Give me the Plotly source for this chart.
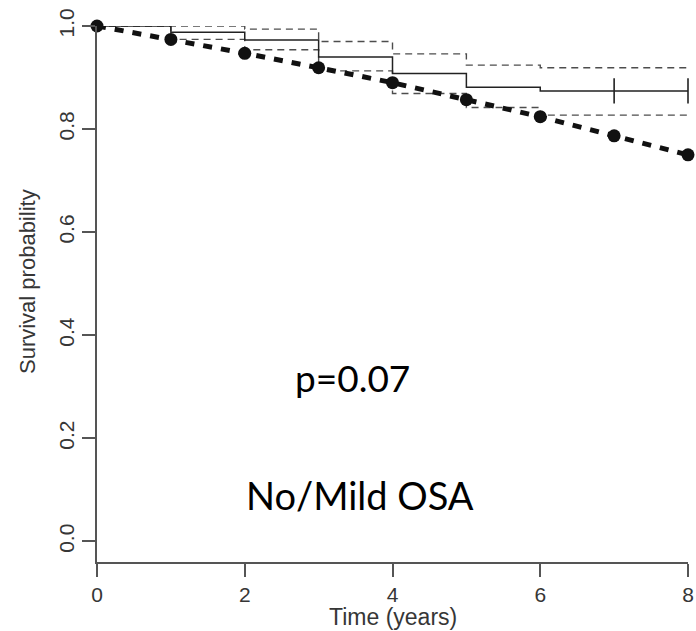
import plotly.graph_objects as go

# ---- data ----
years = [0, 1, 2, 3, 4, 5, 6, 7, 8]
km_survival = [1.0, 0.988, 0.973, 0.940, 0.908, 0.881, 0.874, 0.874, 0.874]
ci_upper = [1.0, 1.0, 0.994, 0.970, 0.946, 0.924, 0.919, 0.919, 0.919]
ci_lower = [1.0, 0.974, 0.954, 0.913, 0.869, 0.842, 0.827, 0.827, 0.827]
expected_survival = [1.0, 0.974, 0.947, 0.919, 0.890, 0.857, 0.824, 0.787, 0.750]
censor_times = [7, 8]
censor_survival = [0.874, 0.874]

x_ticks = [0, 2, 4, 6, 8]
y_ticks = [0.0, 0.2, 0.4, 0.6, 0.8, 1.0]
y_tick_labels = ["0.0", "0.2", "0.4", "0.6", "0.8", "1.0"]

AXIS_COLOR = "#555555"
TEXT_COLOR = "#363636"
FONT = "Liberation Sans, Arial, sans-serif"

fig = go.Figure()

# confidence limits (thin dashed steps)
for ci in (ci_upper, ci_lower):
    fig.add_trace(go.Scatter(
        x=years, y=ci, mode="lines", line_shape="hv",
        line=dict(color="#4d4d4d", width=1.4, dash="7px,5px"),
        cliponaxis=False, showlegend=False, hoverinfo="skip"))

# Kaplan-Meier estimate (solid step)
fig.add_trace(go.Scatter(
    x=years, y=km_survival, mode="lines", line_shape="hv",
    line=dict(color="#222222", width=1.5),
    cliponaxis=False, showlegend=False))

# censor marks
fig.add_trace(go.Scatter(
    x=censor_times, y=censor_survival, mode="markers",
    marker=dict(symbol="line-ns", size=18, line=dict(color="#222222", width=1.6)),
    cliponaxis=False, showlegend=False))

# expected survival (thick dashed with dots)
fig.add_trace(go.Scatter(
    x=years, y=expected_survival, mode="lines+markers",
    line=dict(color="#111111", width=5, dash="9px,9px"),
    marker=dict(color="#111111", size=13),
    cliponaxis=False, showlegend=False))

fig.update_layout(
    width=696, height=631,
    margin=dict(l=97, r=8, t=26, b=69),
    paper_bgcolor="white", plot_bgcolor="white",
    font=dict(family=FONT, size=21, color=TEXT_COLOR),
    xaxis=dict(
        range=[0, 8], tickvals=x_ticks, ticktext=[str(v) for v in x_ticks],
        showgrid=False, zeroline=False, automargin=False,
        showline=True, linecolor=AXIS_COLOR, linewidth=1.5,
        ticks="outside", ticklen=13, tickwidth=1.5, tickcolor=AXIS_COLOR,
        ticklabeloverflow="allow",
        tickfont=dict(size=21)),
    yaxis=dict(
        range=[-0.04, 1.0], tickvals=y_ticks, ticktext=y_tick_labels,
        tickangle=-90,
        showgrid=False, zeroline=False, automargin=False,
        showline=True, linecolor=AXIS_COLOR, linewidth=1.5,
        ticks="outside", ticklen=13, tickwidth=1.5, tickcolor=AXIS_COLOR,
        tickfont=dict(size=21)),
)

# axis titles
fig.add_annotation(text="Time (years)", xref="paper", yref="paper",
                   x=0.5, y=(562 - 617) / 536, xanchor="center", yanchor="middle",
                   showarrow=False, font=dict(size=23, color=TEXT_COLOR))
fig.add_annotation(text="Survival probability", xref="paper", yref="paper",
                   x=(27 - 97) / 591, y=(562 - 282) / 536, xanchor="center", yanchor="middle",
                   textangle=-90, showarrow=False, font=dict(size=22, color=TEXT_COLOR))

# in-plot labels
fig.add_annotation(text="p=0.07", xref="paper", yref="paper",
                   x=(352 - 97) / 591, y=(562 - 402) / 536,
                   showarrow=False, font=dict(family="Lato, sans-serif", size=37, color="#000000"))
fig.add_annotation(text="No/Mild OSA", xref="paper", yref="paper",
                   x=(360 - 97) / 591, y=(562 - 520) / 536,
                   showarrow=False, font=dict(family="Lato, sans-serif", size=38, color="#000000"))

# remove the browser's default body margin so the figure fills the window exactly
fig.write_html(
    "out.html",
    config={"displayModeBar": False},
    post_script="document.body.style.margin='0px';document.body.style.overflow='hidden';",
)
